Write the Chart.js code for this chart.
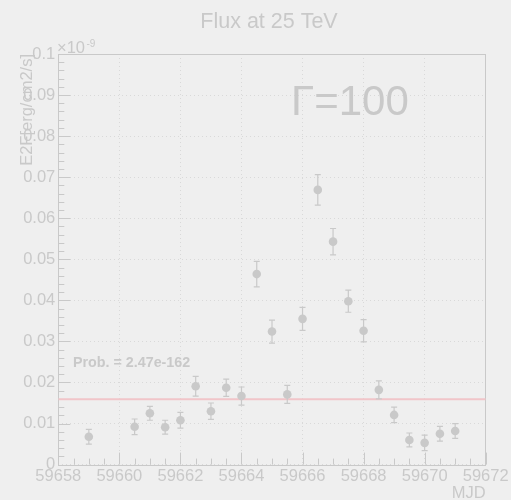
<!DOCTYPE html>
<html>
<head>
<meta charset="utf-8">
<script src="https://cdn.jsdelivr.net/npm/chart.js@4"></script>
<style>
  html, body { margin: 0; padding: 0; background: #efefef; }
  #wrap { width: 511px; height: 500px; }
</style>
</head>
<body>
<div id="wrap"><canvas id="c" width="511" height="500"></canvas></div>
<script>
// Light-curve points: MJD, flux (units of 1e-9 erg/cm2/s), 1-sigma errors
const mjd = [59659.0, 59660.5, 59661.0, 59661.5, 59662.0, 59662.5, 59663.0, 59663.5,
             59664.0, 59664.5, 59665.0, 59665.5, 59666.0, 59666.5, 59667.0, 59667.5,
             59668.0, 59668.5, 59669.0, 59669.5, 59670.0, 59670.5, 59671.0];
const flux = [0.0068, 0.0092, 0.0125, 0.0091, 0.0108, 0.0191, 0.0130, 0.0187,
              0.0167, 0.0464, 0.0324, 0.0171, 0.0355, 0.0669, 0.0543, 0.0398,
              0.0326, 0.0182, 0.0121, 0.0060, 0.0053, 0.0075, 0.0082];
const fluxErr = [0.0018, 0.0019, 0.0017, 0.0017, 0.0019, 0.0024, 0.0020, 0.0021,
                 0.0022, 0.0031, 0.0028, 0.0022, 0.0028, 0.0037, 0.0032, 0.0027,
                 0.0027, 0.0022, 0.0019, 0.0017, 0.0019, 0.0018, 0.0018];
// Constant-flux fit level
const constFit = 0.0159;
const xRange = [59658, 59672];
const yRange = [0, 0.1];

const FG = '#c9c9c9';
const FONT = '"Liberation Sans", Arial, Helvetica, sans-serif';

const points = mjd.map((x, i) => ({ x: x, y: flux[i], e: fluxErr[i] }));

// Error bars, inward axis ticks, frame and labels
const decor = {
  id: 'decor',
  beforeDraw(chart) {
    const ctx = chart.ctx;
    ctx.save();
    ctx.fillStyle = '#efefef';
    ctx.fillRect(0, 0, chart.width, chart.height);
    ctx.restore();
  },
  beforeDatasetsDraw(chart) {
    const { ctx, chartArea: a, scales: { x, y } } = chart;
    ctx.save();
    ctx.strokeStyle = FG;
    ctx.lineWidth = 1;
    // frame
    ctx.strokeRect(Math.round(a.left) + 0.5, Math.round(a.top) + 0.5,
                   Math.round(a.right - a.left), Math.round(a.bottom - a.top));
    // y ticks (inside)
    for (let k = 0; k <= 50; k++) {
      const v = k * 0.002;
      const py = Math.round(y.getPixelForValue(v)) + 0.5;
      const len = (k % 5 === 0) ? 12 : 6;
      ctx.beginPath();
      ctx.moveTo(a.left, py);
      ctx.lineTo(a.left + len, py);
      ctx.stroke();
    }
    // x ticks (inside)
    for (let k = 0; k <= 28; k++) {
      const v = xRange[0] + k * 0.5;
      const px = Math.round(x.getPixelForValue(v)) + 0.5;
      const len = (k % 4 === 0) ? 12 : 6;
      ctx.beginPath();
      ctx.moveTo(px, a.bottom);
      ctx.lineTo(px, a.bottom - len);
      ctx.stroke();
    }
    ctx.restore();
  },
  afterDatasetsDraw(chart) {
    const { ctx, scales: { x, y } } = chart;
    ctx.save();
    ctx.strokeStyle = FG;
    ctx.lineWidth = 1.2;
    points.forEach(p => {
      const px = x.getPixelForValue(p.x);
      const y1 = y.getPixelForValue(p.y + p.e);
      const y0 = y.getPixelForValue(p.y - p.e);
      ctx.beginPath();
      ctx.moveTo(px, y0); ctx.lineTo(px, y1);
      ctx.moveTo(px - 3, y0); ctx.lineTo(px + 3, y0);
      ctx.moveTo(px - 3, y1); ctx.lineTo(px + 3, y1);
      ctx.stroke();
    });
    ctx.fillStyle = FG;
    points.forEach(p => {
      ctx.beginPath();
      ctx.arc(x.getPixelForValue(p.x), y.getPixelForValue(p.y), 4.3, 0, Math.PI * 2);
      ctx.fill();
    });
    ctx.restore();
  },
  afterDraw(chart) {
    const { ctx, chartArea: a } = chart;
    ctx.save();
    ctx.fillStyle = FG;
    // title
    ctx.font = '21.5px ' + FONT;
    ctx.textAlign = 'center';
    ctx.textBaseline = 'alphabetic';
    ctx.fillText('Flux at 25 TeV', 269, 27.5);
    // exponent
    ctx.textAlign = 'left';
    ctx.font = '16.5px ' + FONT;
    ctx.fillText('\u00d710', 57, 53);
    ctx.font = '10px ' + FONT;
    ctx.fillText('-9', 86.5, 47);
    // big label
    ctx.font = '42px ' + FONT;
    ctx.fillText('\u0393=100', 291, 115);
    // fit probability
    ctx.font = 'bold 14.3px ' + FONT;
    ctx.fillText('Prob. = 2.47e-162', 73, 367);
    // x axis title
    ctx.font = '16.5px ' + FONT;
    ctx.textAlign = 'right';
    ctx.fillText('MJD', a.right, 498);
    // y axis title
    ctx.translate(32, a.top);
    ctx.rotate(-Math.PI / 2);
    ctx.textAlign = 'right';
    ctx.fillText('E2F[erg/cm2/s]', 0, 0);
    ctx.restore();
  }
};

new Chart(document.getElementById('c'), {
  type: 'scatter',
  data: {
    datasets: [
      {
        data: [{ x: xRange[0], y: constFit }, { x: xRange[1], y: constFit }],
        showLine: true,
        pointRadius: 0,
        borderColor: '#f1c5c9',
        borderWidth: 2,
        fill: false
      },
      {
        data: points,
        pointRadius: 0,
        showLine: false
      }
    ]
  },
  options: {
    responsive: false,
    animation: false,
    events: [],
    layout: { padding: { left: 0, top: 54, right: 25.3, bottom: 0 } },
    plugins: { legend: { display: false }, tooltip: { enabled: false } },
    scales: {
      x: {
        type: 'linear',
        min: xRange[0], max: xRange[1],
        afterFit(s) { s.height = 35.4; },
        afterBuildTicks(s) {
          s.ticks = [];
          for (let v = xRange[0]; v <= xRange[1]; v += 2) s.ticks.push({ value: v });
        },
        ticks: {
          color: FG,
          font: { family: FONT, size: 16.5 },
          padding: 2,
          maxRotation: 0,
          autoSkip: false,
          callback: v => String(v)
        },
        grid: { color: '#d9d9d9', drawTicks: false, lineWidth: 1 },
        border: { display: false, dash: [1, 3] }
      },
      y: {
        type: 'linear',
        min: yRange[0], max: yRange[1],
        afterFit(s) { s.width = 58.3; },
        afterBuildTicks(s) {
          s.ticks = [];
          for (let k = 0; k <= 10; k++) s.ticks.push({ value: k / 100 });
        },
        ticks: {
          color: FG,
          font: { family: FONT, size: 16.5 },
          padding: 3,
          autoSkip: false,
          callback: v => String(+v.toFixed(2))
        },
        grid: { color: '#d9d9d9', drawTicks: false, lineWidth: 1 },
        border: { display: false, dash: [1, 3] }
      }
    }
  },
  plugins: [decor]
});
</script>
</body>
</html>
